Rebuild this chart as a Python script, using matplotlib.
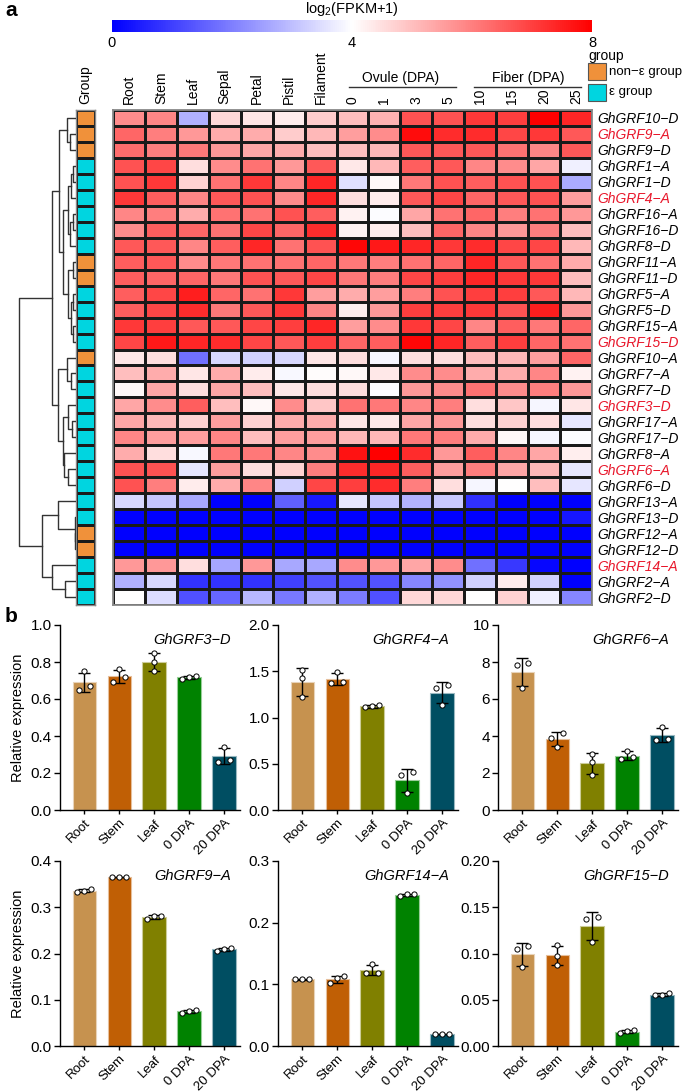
import numpy as np
import matplotlib
matplotlib.use('Agg')
import matplotlib.pyplot as plt
from matplotlib.colors import LinearSegmentedColormap, ListedColormap
from matplotlib.cm import ScalarMappable
from matplotlib.colors import Normalize
from matplotlib.patches import Rectangle
from matplotlib.lines import Line2D

plt.rcParams['font.family'] = ['Liberation Sans', 'DejaVu Sans']
plt.rcParams['mathtext.fontset'] = 'custom'
plt.rcParams['mathtext.rm'] = 'Liberation Sans'

# ---- heatmap data (log2(FPKM+1)) ----
tissues = ['Root', 'Stem', 'Leaf', 'Sepal', 'Petal', 'Pistil', 'Filament']
ovule_dpa = ['0', '1', '3', '5']
fiber_dpa = ['10', '15', '20', '25']
genes = ['GhGRF10−D', 'GhGRF9−A', 'GhGRF9−D', 'GhGRF1−A', 'GhGRF1−D', 'GhGRF4−A',
         'GhGRF16−A', 'GhGRF16−D', 'GhGRF8−D', 'GhGRF11−A', 'GhGRF11−D', 'GhGRF5−A',
         'GhGRF5−D', 'GhGRF15−A', 'GhGRF15−D', 'GhGRF10−A', 'GhGRF7−A', 'GhGRF7−D',
         'GhGRF3−D', 'GhGRF17−A', 'GhGRF17−D', 'GhGRF8−A', 'GhGRF6−A', 'GhGRF6−D',
         'GhGRF13−A', 'GhGRF13−D', 'GhGRF12−A', 'GhGRF12−D', 'GhGRF14−A', 'GhGRF2−A',
         'GhGRF2−D']
highlight = ['GhGRF9−A', 'GhGRF4−A', 'GhGRF15−D', 'GhGRF3−D', 'GhGRF6−A', 'GhGRF14−A']
# 1 = non-epsilon group, 0 = epsilon group
group = [1, 1, 1, 0, 0, 0, 0, 0, 0, 1, 1, 0, 0, 0, 0, 1, 0, 0, 0, 0, 0, 0, 0, 0,
         0, 0, 1, 1, 0, 0, 0]

expr = [
    [5.8, 5.9, 2.75, 4.6, 4.4, 4.3, 4.8, 5.0, 5.2, 6.7, 6.7, 7.1, 7.0, 8.0, 7.4],
    [6.4, 6.0, 5.6, 5.3, 5.3, 4.8, 5.1, 5.5, 5.8, 7.8, 7.3, 7.3, 6.9, 7.1, 6.6],
    [6.3, 6.0, 6.1, 5.6, 5.4, 5.3, 5.0, 5.0, 5.1, 6.6, 6.6, 6.6, 6.2, 5.9, 6.6],
    [6.7, 6.9, 4.5, 5.8, 6.2, 5.6, 6.6, 4.35, 5.1, 6.5, 6.6, 5.9, 5.8, 5.4, 3.75],
    [6.7, 7.1, 4.7, 6.2, 7.1, 5.9, 7.4, 3.5, 4.1, 6.1, 6.7, 6.5, 6.7, 6.7, 2.7],
    [7.1, 6.5, 5.9, 6.6, 6.7, 5.8, 7.4, 4.5, 4.3, 6.6, 6.9, 6.4, 6.6, 6.7, 5.5],
    [5.9, 6.0, 5.3, 6.2, 6.2, 6.7, 6.5, 4.2, 3.95, 5.4, 6.2, 6.4, 6.0, 6.2, 5.6],
    [5.8, 6.5, 6.4, 6.2, 6.9, 6.4, 7.3, 4.2, 4.25, 5.0, 6.4, 5.9, 5.6, 6.0, 5.0],
    [6.6, 6.6, 5.9, 6.5, 7.4, 6.2, 6.7, 7.9, 7.6, 7.4, 7.1, 7.3, 6.9, 6.9, 5.1],
    [6.5, 6.6, 5.8, 6.1, 6.2, 6.2, 6.4, 6.1, 6.0, 6.2, 6.4, 7.4, 6.6, 6.2, 5.3],
    [6.5, 6.4, 6.4, 6.1, 6.7, 6.6, 6.9, 6.1, 6.0, 6.9, 7.0, 7.4, 7.1, 7.1, 5.0],
    [6.5, 6.9, 7.5, 6.4, 6.2, 7.1, 5.5, 5.3, 5.5, 6.0, 6.7, 7.0, 7.0, 6.6, 5.1],
    [6.5, 6.9, 7.3, 6.1, 6.6, 7.1, 5.9, 4.25, 5.6, 7.0, 7.0, 7.1, 6.7, 7.5, 5.6],
    [7.1, 7.0, 6.6, 6.6, 6.9, 7.0, 7.4, 5.5, 5.8, 7.1, 6.9, 5.9, 6.5, 6.1, 6.4],
    [6.9, 7.6, 7.4, 7.3, 6.9, 6.6, 7.0, 6.4, 6.5, 7.9, 7.4, 6.5, 7.0, 6.4, 6.2],
    [4.4, 4.5, 1.75, 3.4, 3.3, 3.4, 4.4, 4.5, 3.85, 4.5, 4.5, 5.0, 5.1, 5.5, 6.4],
    [5.0, 5.3, 4.4, 5.3, 4.3, 3.9, 4.05, 4.1, 4.35, 5.8, 5.8, 5.3, 5.3, 5.9, 4.2],
    [4.1, 5.4, 4.5, 5.4, 5.0, 4.4, 4.5, 4.5, 3.95, 5.6, 5.8, 6.2, 5.8, 6.0, 5.6],
    [5.4, 5.8, 6.5, 5.0, 4.1, 5.8, 4.9, 6.2, 6.1, 5.9, 6.0, 4.5, 4.9, 3.85, 4.4],
    [5.4, 5.1, 4.7, 5.5, 4.7, 5.3, 5.3, 4.4, 4.35, 5.4, 5.6, 4.5, 4.7, 4.5, 3.6],
    [5.9, 5.5, 5.5, 5.9, 5.0, 5.5, 5.5, 5.1, 5.1, 6.1, 6.0, 5.3, 4.1, 3.85, 3.95],
    [5.3, 4.5, 3.9, 6.1, 6.1, 5.9, 5.8, 7.7, 8.0, 7.3, 5.6, 6.5, 5.9, 5.4, 4.25],
    [6.7, 6.7, 3.6, 5.5, 4.5, 4.7, 6.0, 7.3, 7.4, 6.5, 5.5, 6.0, 5.4, 5.1, 3.6],
    [6.7, 6.0, 4.3, 5.3, 5.9, 3.25, 6.9, 7.0, 7.3, 6.0, 4.5, 3.85, 4.0, 5.0, 3.6],
    [3.4, 3.1, 2.65, 0.0, 0.0, 1.5, 0.4, 3.6, 3.1, 2.8, 3.15, 0.75, 0.0, 0.0, 0.0],
    [0.0, 0.0, 0.0, 0.0, 0.0, 0.0, 0.0, 0.0, 0.0, 0.0, 0.0, 0.0, 0.0, 0.0, 0.35],
    [0.0, 0.0, 0.0, 0.0, 0.0, 0.0, 0.0, 0.0, 0.0, 0.0, 0.0, 0.0, 0.0, 0.0, 0.0],
    [0.0, 0.0, 0.0, 0.0, 0.0, 0.0, 0.0, 0.0, 0.0, 0.0, 0.0, 0.0, 0.0, 0.0, 0.0],
    [5.6, 5.6, 4.5, 2.6, 5.6, 2.65, 2.65, 5.8, 5.6, 5.4, 5.8, 1.75, 0.9, 0.1, 0.0],
    [2.75, 3.4, 0.8, 0.8, 0.8, 1.0, 1.3, 1.3, 1.3, 2.1, 2.3, 3.25, 4.3, 3.25, 0.0],
    [4.0, 3.45, 1.25, 1.6, 2.9, 1.9, 2.75, 1.95, 1.25, 4.6, 4.6, 4.0, 4.7, 3.75, 2.1],
]

# dendrogram: [merge height, left, right], leaves are row indices
tree = [56.7,
        [24.3,
         [16.7,
          [9, 0, [6, 1, 2]],
          [13,
           [8, [5, [3, 3, 4], 5], [6, [3, 6, 7], 8]],
           [8, [3, 9, 10], [5, [3, 11, 12], [3, 13, 14]]]]],
         [17.7,
          [9.3, 15, [5, 16, 17]],
          [13.3, [7.7, 18, [4.3, 19, 20]], [11.7, 21, [7.7, 22, 23]]]]],
        [33.7,
         [18.3, 24, [1.2, 25, [0.6, 26, 27]]],
         [23.7, 28, [11, 29, 30]]]]

# ---- qRT-PCR data (3 replicates per sample) ----
samples = ['Root', 'Stem', 'Leaf', '0 DPA', '20 DPA']
qpcr_genes = ['GhGRF3−D', 'GhGRF4−A', 'GhGRF6−A', 'GhGRF9−A', 'GhGRF14−A', 'GhGRF15−D']
reps_grf3d = [[0.65, 0.67, 0.75], [0.69, 0.72, 0.76], [0.75, 0.80, 0.85], [0.71, 0.72, 0.725], [0.26, 0.27, 0.34]]
reps_grf4a = [[1.22, 1.43, 1.51], [1.37, 1.38, 1.49], [1.11, 1.12, 1.14], [0.18, 0.38, 0.41], [1.14, 1.32, 1.35]]
reps_grf6a = [[6.6, 7.85, 7.95], [3.4, 3.9, 4.15], [1.9, 2.6, 3.05], [2.75, 2.85, 3.2], [3.8, 3.85, 4.5]]
reps_grf9a = [[0.333, 0.339, 0.335], [0.365, 0.366, 0.365], [0.274, 0.281, 0.281], [0.072, 0.077, 0.075], [0.206, 0.211, 0.210]]
reps_grf14a = [[0.108, 0.109, 0.108], [0.102, 0.110, 0.113], [0.118, 0.133, 0.119], [0.243, 0.246, 0.246], [0.019, 0.020, 0.020]]
reps_grf15d = [[0.085, 0.105, 0.108], [0.088, 0.097, 0.109], [0.112, 0.137, 0.139], [0.014, 0.017, 0.016], [0.055, 0.057, 0.055]]
y_max = [1.0, 2.0, 10, 0.4, 0.3, 0.2]
y_step = [0.2, 0.5, 2, 0.1, 0.1, 0.05]
y_fmt = ['%.1f', '%.1f', '%d', '%.1f', '%.1f', '%.2f']
bar_colors = ['#C6924F', '#C05F05', '#808000', '#008200', '#004E62']

W, H = 685, 1092


def box(x0, y0, x1, y1):
    return [x0 / W, 1 - y1 / H, (x1 - x0) / W, (y1 - y0) / H]


def draw_tree(ax, node):
    if isinstance(node, int):
        return node + 0.5, 0.0
    h, left, right = node
    y1, h1 = draw_tree(ax, left)
    y2, h2 = draw_tree(ax, right)
    ax.plot([h1, h, h, h2], [y1, y1, y2, y2], color='#333333', lw=1)
    return (y1 + y2) / 2, h


def swarm_offsets(vals, ymax):
    # spread replicates sideways when they would overlap
    order = np.argsort(vals)
    offs = np.zeros(len(vals))
    clusters = [[order[0]]]
    for k in order[1:]:
        if vals[k] - vals[clusters[-1][-1]] < 0.035 * ymax:
            clusters[-1].append(k)
        else:
            clusters.append([k])
    for cl in clusters:
        n = len(cl)
        if n == 2:
            pos = [-0.17, 0.17]
        else:
            pos = list((np.arange(n) - (n - 1) / 2) * 0.2)
        for k, p in zip(cl, pos):
            offs[k] = p
    return offs


fig = plt.figure(figsize=(W / 100, H / 100), dpi=100)

# ---- heatmap ----
cmap = LinearSegmentedColormap.from_list('bwr_', ['#0000FF', '#FFFFFF', '#FF0000'])
data = np.array(expr)
nrow, ncol = data.shape
ax = fig.add_axes(box(113, 110, 592, 605))
ax.pcolormesh(data, cmap=cmap, vmin=0, vmax=8, edgecolors='#1a1a1a', linewidth=0.8)
ax.set_xlim(0, ncol)
ax.set_ylim(nrow, 0)
ax.xaxis.tick_top()
ax.set_xticks(np.arange(ncol) + 0.5)
ax.set_xticklabels(tissues + ovule_dpa + fiber_dpa, rotation=90, fontsize=10)
ax.yaxis.tick_right()
ax.set_yticks(np.arange(nrow) + 0.5)
ax.set_yticklabels(genes, fontsize=10, style='italic')
for lab in ax.get_yticklabels():
    if lab.get_text() in highlight:
        lab.set_color('#E8162A')
ax.tick_params(length=0, pad=4)
for s in ax.spines.values():
    s.set_color('#888888')
    s.set_linewidth(1.3)

# Ovule / Fiber headers
n_t = len(tissues)
ax.text(n_t + len(ovule_dpa) / 2, -2.0, 'Ovule (DPA)', ha='center', va='center',
        fontsize=10, transform=ax.transData, clip_on=False)
ax.add_line(Line2D([n_t + 0.4, n_t + len(ovule_dpa) - 0.25], [-1.45, -1.45], color='#333333',
                   lw=1, clip_on=False))
n_o = n_t + len(ovule_dpa)
ax.text(n_o + len(fiber_dpa) / 2, -2.0, 'Fiber (DPA)', ha='center', va='center',
        fontsize=10, transform=ax.transData, clip_on=False)
ax.add_line(Line2D([n_o + 0.3, n_o + len(fiber_dpa) - 0.35], [-1.45, -1.45], color='#333333',
                   lw=1, clip_on=False))

# group column
col_orange, col_cyan = '#F0913A', '#00D5E0'
gax = fig.add_axes(box(76, 110, 95, 605))
gax.pcolormesh(np.array(group).reshape(-1, 1), cmap=ListedColormap([col_cyan, col_orange]),
               vmin=0, vmax=1, edgecolors='#1a1a1a', linewidth=0.8)
gax.set_xlim(0, 1)
gax.set_ylim(nrow, 0)
gax.set_yticks([])
gax.xaxis.tick_top()
gax.set_xticks([0.5])
gax.set_xticklabels(['Group'], rotation=90, fontsize=10)
gax.tick_params(length=0, pad=4)
for s in gax.spines.values():
    s.set_color('#888888')
    s.set_linewidth(1.0)

# dendrogram
dax = fig.add_axes(box(16, 110, 76, 605))
draw_tree(dax, tree)
dax.set_xlim(tree[0] * 1.06, 0)
dax.set_ylim(nrow, 0)
dax.axis('off')

# colorbar
cax = fig.add_axes(box(112, 20, 592, 32))
cb = fig.colorbar(ScalarMappable(norm=Normalize(0, 8), cmap=cmap), cax=cax,
                  orientation='horizontal', ticks=[0, 4, 8])
cb.outline.set_visible(False)
cax.tick_params(length=0, labelsize=10.5, pad=3)
fig.text(352 / W, 1 - 9 / H, 'log$_2$(FPKM+1)', ha='center', va='center', fontsize=10.5)

# group legend
fig.text(588 / W, 1 - 56 / H, 'group', ha='left', va='center', fontsize=10)
for yy, col, lab in [(63, col_orange, 'non−ε group'), (84, col_cyan, 'ε group')]:
    fig.add_artist(Rectangle((588 / W, 1 - (yy + 17) / H), 18 / W, 17 / H, facecolor=col,
                             edgecolor='#555555', lw=0.8, transform=fig.transFigure))
    fig.text(609 / W, 1 - (yy + 8.5) / H, lab, ha='left', va='center', fontsize=9.5)

fig.text(5 / W, 1 - 11 / H, 'a', fontsize=15, fontweight='bold', va='center')
fig.text(5 / W, 1 - 616 / H, 'b', fontsize=15, fontweight='bold', va='center')

# ---- qRT-PCR bar panels ----
all_reps = [reps_grf3d, reps_grf4a, reps_grf6a, reps_grf9a, reps_grf14a, reps_grf15d]
lefts = [60, 278, 498]
tops = [625, 861]
xpos = np.arange(len(samples))
for i, gene in enumerate(qpcr_genes):
    r, c = divmod(i, 3)
    bx = fig.add_axes(box(lefts[c], tops[r], lefts[c] + 180, tops[r] + 185))
    reps = np.array(all_reps[i])
    means = reps.mean(axis=1)
    sds = reps.std(axis=1, ddof=1)
    bx.bar(xpos, means, width=0.68, color=bar_colors, edgecolor=[
        tuple(0.6 + 0.4 * np.array(matplotlib.colors.to_rgb(cc))) for cc in bar_colors],
        linewidth=0.8, zorder=2)
    bx.errorbar(xpos, means, yerr=sds, fmt='none', ecolor='black', elinewidth=1,
                capsize=4, capthick=1, zorder=3)
    for j in range(len(samples)):
        offs = swarm_offsets(reps[j], y_max[i])
        bx.scatter(xpos[j] + offs, reps[j], s=14, facecolor='white', edgecolor='black',
                   linewidth=0.7, zorder=4)
    bx.set_xlim(-0.7, 4.45)
    bx.set_ylim(0, y_max[i])
    ticks = np.arange(0, y_max[i] + y_step[i] / 2, y_step[i])
    bx.set_yticks(ticks)
    bx.set_yticklabels([y_fmt[i] % t for t in ticks])
    bx.set_xticks(xpos)
    bx.set_xticklabels(samples, rotation=45, ha='right', va='top', rotation_mode='anchor')
    bx.tick_params(axis='y', labelsize=11, length=4, width=1, pad=2)
    bx.tick_params(axis='x', labelsize=9.5, length=3, width=1, pad=2)
    for s in ['top', 'right']:
        bx.spines[s].set_visible(False)
    for s in ['left', 'bottom']:
        bx.spines[s].set_linewidth(1)
    bx.text(0.95, 0.92, gene, transform=bx.transAxes, ha='right', va='center',
            fontsize=10.5, style='italic')
    if c == 0:
        bx.set_ylabel('Relative expression', fontsize=10.5, labelpad=4)

fig.savefig('out.png', dpi=100)
